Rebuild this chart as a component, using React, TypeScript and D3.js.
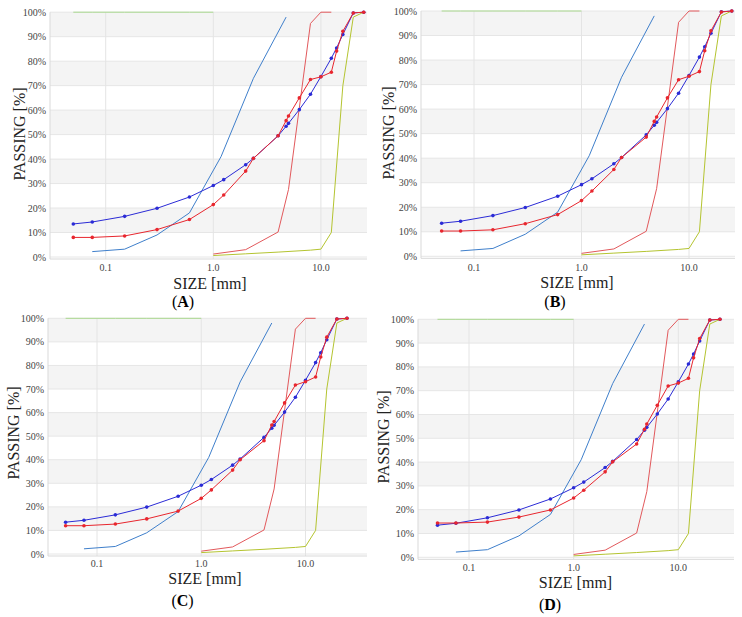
import React from "react";
import * as d3 from "d3";

// ---------- DATA ----------
const SIZES = [0.05, 0.075, 0.15, 0.3, 0.6, 1.0, 1.25, 2.0, 2.36, 4.0, 4.75, 5.0, 6.3, 8.0, 10.0, 12.5, 14.0, 16.0, 20.0, 25.0];
const TARGET = [13.5, 14.3, 16.6, 19.9, 24.5, 29.2, 31.6, 37.7, 40.3, 49.5, 53.4, 54.6, 60.2, 66.5, 73.7, 81.2, 85.4, 90.9, 99.7, 100];
const MIX_A = [8.0, 8.0, 8.6, 11.2, 15.3, 21.4, 25.3, 35.1, 40.3, 49.5, 55.7, 57.6, 65.0, 72.5, 73.6, 75.5, 84.1, 92.2, 99.7, 100];
const MIX_B = [10.3, 10.3, 10.8, 13.3, 17.0, 22.7, 26.6, 35.4, 40.3, 48.6, 55.0, 56.8, 64.6, 72.0, 73.4, 75.3, 83.8, 91.9, 99.6, 100];
const MIX_C = [12.0, 12.0, 12.7, 14.9, 18.2, 23.6, 27.2, 35.6, 40.0, 48.1, 54.7, 56.2, 64.1, 71.7, 73.1, 75.1, 83.6, 92.0, 99.7, 100];
const MIX_D = [14.4, 14.4, 14.8, 16.9, 19.9, 24.9, 28.2, 35.9, 40.1, 47.6, 53.8, 56.0, 63.9, 72.0, 73.2, 75.2, 83.8, 91.9, 99.7, 100];

const SAND_SIZES = [0.075, 0.15, 0.3, 0.6, 1.18, 2.36, 4.75];
const SAND = [2.2, 3.2, 9.0, 18.0, 41.0, 73.0, 98.0];

const COARSE_SIZES = [1.0, 2.0, 4.0, 5.0, 8.0, 10.0, 12.5];
const COARSE = [1.2, 3.0, 10.2, 27.6, 95.4, 100, 100];

const GRAVEL_SIZES = [1.0, 2.0, 4.0, 8.0, 10.0, 12.5, 16.0, 20.0, 25.0];
const GRAVEL = [0.6, 1.3, 2.0, 2.8, 3.2, 10.0, 70.0, 98.0, 100];

const FILLER_SIZES = [0.05, 0.075, 0.15, 0.3, 0.6, 1.0];
const FILLER = [100, 100, 100, 100, 100, 100];

const X_TICKS = [0.1, 1.0, 10.0];
const X_TICK_LABELS = ["0.1", "1.0", "10.0"];
const Y_TICKS = [0, 10, 20, 30, 40, 50, 60, 70, 80, 90, 100];
const PANEL_LABELS = ["A", "B", "C", "D"];
const MIXES = [MIX_A, MIX_B, MIX_C, MIX_D];

// ---------- LAYOUT ----------
const PANELS = [
  { x01: 105.7, x10: 320.9, y100: 12.2, y0: 257, left: 50, right: 367, tickY: 270.5, titleX: 210, titleY: 288.5, yTitleX: 19, yTitleY: 134, labX: 183, labY: 307 },
  { x01: 474, x10: 689, y100: 11, y0: 256.3, left: 421, right: 735, tickY: 270.5, titleX: 577, titleY: 287.5, yTitleX: 388, yTitleY: 133, labX: 555, labY: 307 },
  { x01: 97, x10: 305.5, y100: 318.3, y0: 554, left: 48, right: 367, tickY: 567, titleX: 205, titleY: 584, yTitleX: 13.5, yTitleY: 433, labX: 182.5, labY: 606 },
  { x01: 469, x10: 678.3, y100: 319.3, y0: 557.3, left: 418, right: 734, tickY: 571, titleX: 575.5, titleY: 588, yTitleX: 383.5, yTitleY: 437, labX: 550, labY: 610 },
];

const FONT = "'Liberation Serif', 'Times New Roman', serif";
const C_TARGET = "#2b2bd6";
const C_MIX = "#e8262e";
const C_SAND = "#3f7fcb";
const C_COARSE = "#e2595c";
const C_GRAVEL = "#b4c430";
const C_FILLER = "#a9d88e";

function Panel({ p, mix, label }: { p: any; mix: number[]; label: string }) {
  const x = d3.scaleLog().domain([0.1, 10]).range([p.x01, p.x10]);
  const y = d3.scaleLinear().domain([0, 100]).range([p.y0, p.y100]);
  const line = (xs: number[], ys: number[]) =>
    d3.line<number>().x((_, i) => x(xs[i])).y((v) => y(v))(ys) || "";
  const bottom = p.y0 + 2;
  const bands = [10, 30, 50, 70, 90];
  return (
    <g>
      {bands.map((b) => (
        <rect key={b} x={p.left} width={p.right - p.left} y={y(b + 10)} height={y(b) - y(b + 10)} fill="#f4f4f4" />
      ))}
      {Y_TICKS.map((t) => (
        <line key={t} x1={p.left} x2={p.right} y1={y(t)} y2={y(t)} stroke="#e6e6e6" strokeWidth={1} />
      ))}
      {X_TICKS.map((t) => (
        <line key={t} x1={x(t)} x2={x(t)} y1={y(100)} y2={bottom} stroke="#e4e4e4" strokeWidth={1} />
      ))}
      <line x1={p.left} x2={p.left} y1={y(100)} y2={bottom} stroke="#d9d9d9" />
      <line x1={p.left} x2={p.right} y1={bottom} y2={bottom} stroke="#d9d9d9" />
      {Y_TICKS.map((t) => (
        <text key={t} x={p.left - 4} y={y(t)} dy="0.35em" textAnchor="end" fontFamily={FONT} fontSize={10} fill="#444">
          {t + "%"}
        </text>
      ))}
      {X_TICKS.map((t, i) => (
        <text key={t} x={x(t)} y={p.tickY} textAnchor="middle" fontFamily={FONT} fontSize={10} fill="#444">
          {X_TICK_LABELS[i]}
        </text>
      ))}
      <path d={line(FILLER_SIZES, FILLER)} fill="none" stroke={C_FILLER} strokeWidth={1} />
      <path d={line(SAND_SIZES, SAND)} fill="none" stroke={C_SAND} strokeWidth={1} />
      <path d={line(COARSE_SIZES, COARSE)} fill="none" stroke={C_COARSE} strokeWidth={1} />
      <path d={line(GRAVEL_SIZES, GRAVEL)} fill="none" stroke={C_GRAVEL} strokeWidth={1} />
      <path d={line(SIZES, TARGET)} fill="none" stroke={C_TARGET} strokeWidth={1} />
      {TARGET.map((v, i) => (
        <circle key={"t" + i} cx={x(SIZES[i])} cy={y(v)} r={1.8} fill={C_TARGET} />
      ))}
      <path d={line(SIZES, mix)} fill="none" stroke={C_MIX} strokeWidth={1} />
      {mix.map((v, i) => (
        <circle key={"m" + i} cx={x(SIZES[i])} cy={y(v)} r={1.8} fill={C_MIX} />
      ))}
      <text x={p.titleX} y={p.titleY} textAnchor="middle" fontFamily={FONT} fontSize={16} fill="#222">
        SIZE [mm]
      </text>
      <text
        transform={`translate(${p.yTitleX},${p.yTitleY}) rotate(-90)`}
        textAnchor="middle"
        dy="0.35em"
        fontFamily={FONT}
        fontSize={16}
        fill="#222"
      >
        PASSING [%]
      </text>
      <text x={p.labX} y={p.labY} textAnchor="middle" fontFamily={FONT} fontSize={16} fill="#000">
        (<tspan fontWeight="bold">{label}</tspan>)
      </text>
    </g>
  );
}

export default function App() {
  return (
    <svg width={742} height={617} style={{ position: "absolute", left: 0, top: 0, background: "#fff" }}>
      <rect width={742} height={617} fill="#fff" />
      {PANELS.map((p, i) => (
        <Panel key={i} p={p} mix={MIXES[i]} label={PANEL_LABELS[i]} />
      ))}
    </svg>
  );
}
